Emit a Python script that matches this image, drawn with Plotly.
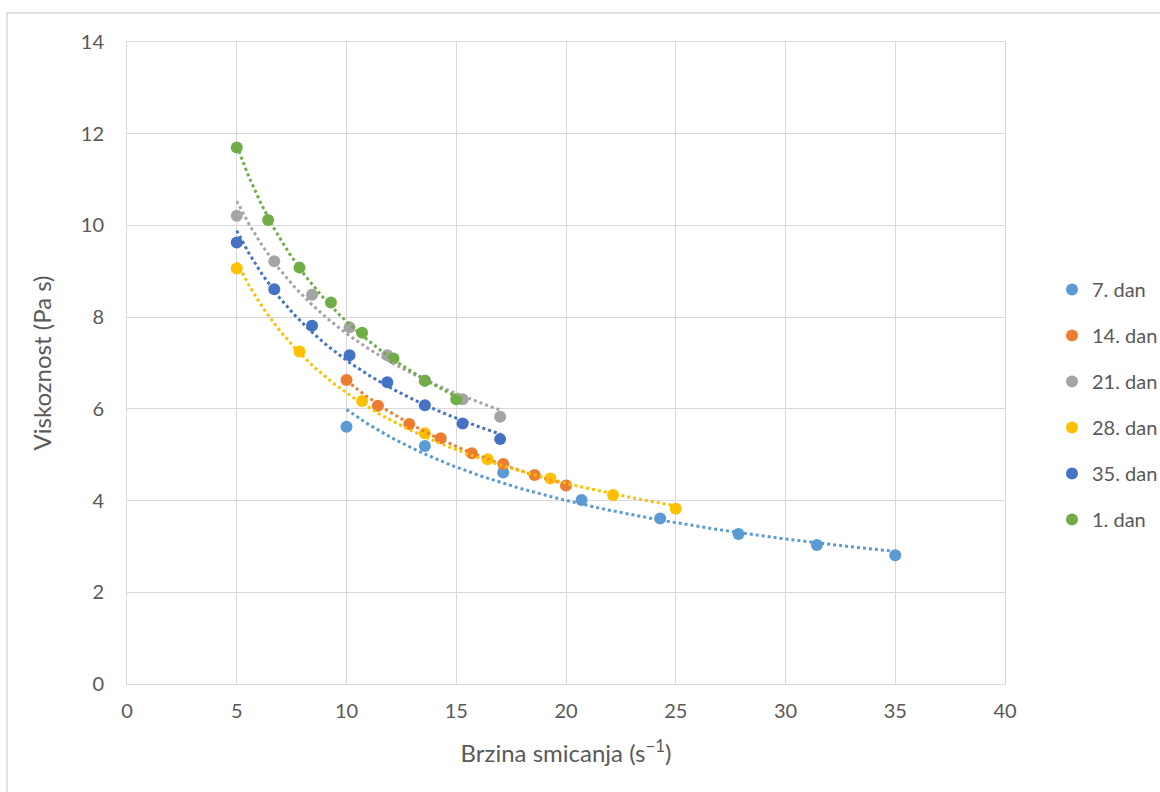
import numpy as np
import plotly.graph_objects as go

series_names = ["7. dan", "14. dan", "21. dan", "28. dan", "35. dan", "1. dan"]
colors = ["#5B9BD5", "#ED7D31", "#A5A5A5", "#FFC000", "#4472C4", "#70AD47"]

x_7 = [10, 13.57, 17.14, 20.71, 24.29, 27.86, 31.43, 35]
y_7 = [5.61, 5.19, 4.61, 4.01, 3.61, 3.27, 3.03, 2.81]

x_14 = [10, 11.43, 12.86, 14.29, 15.71, 17.14, 18.57, 20]
y_14 = [6.63, 6.07, 5.67, 5.36, 5.03, 4.80, 4.56, 4.33]

x_21 = [5, 6.71, 8.43, 10.14, 11.86, 13.57, 15.29, 17]
y_21 = [10.21, 9.22, 8.49, 7.78, 7.17, 6.62, 6.21, 5.83]

x_28 = [5, 7.86, 10.71, 13.57, 16.43, 19.29, 22.14, 25]
y_28 = [9.06, 7.25, 6.17, 5.47, 4.90, 4.48, 4.12, 3.82]

x_35 = [5, 6.71, 8.43, 10.14, 11.86, 13.57, 15.29, 17]
y_35 = [9.63, 8.61, 7.81, 7.17, 6.58, 6.08, 5.68, 5.34]

x_1 = [5, 6.43, 7.86, 9.29, 10.71, 12.14, 13.57, 15]
y_1 = [11.70, 10.12, 9.08, 8.32, 7.66, 7.10, 6.61, 6.21]

xs = [x_7, x_14, x_21, x_28, x_35, x_1]
ys = [y_7, y_14, y_21, y_28, y_35, y_1]

FONT = "Lato"
TXT = "#595959"
GRID = "#D9D9D9"

fig = go.Figure()

for i, (name, c, x, y) in enumerate(zip(series_names, colors, xs, ys)):
    fig.add_trace(go.Scatter(
        x=x, y=y, mode="markers", name=name,
        legendgroup=f"g{i}",
        marker=dict(color=c, size=12, line=dict(width=0)),
    ))

# power trendlines (least squares in log-log space), drawn above markers
for i, (name, c, x, y) in enumerate(zip(series_names, colors, xs, ys)):
    lx, ly = np.log(np.array(x)), np.log(np.array(y))
    b, lna = np.polyfit(lx, ly, 1)
    xt = np.linspace(min(x), max(x), 200)
    yt = np.exp(lna) * xt ** b
    fig.add_trace(go.Scatter(
        x=xt, y=yt, mode="lines", showlegend=False, hoverinfo="skip",
        line=dict(color=c, width=3, dash="dot"),
    ))

L, R, T, B = 127, 1005, 42, 684
W, H = 1160, 792
pw, ph = R - L, B - T

def px(xp):
    return (xp - L) / pw

def py(yp):
    return (B - yp) / ph

fig.add_shape(type="rect", xref="paper", yref="paper",
              x0=px(7), x1=px(1170), y0=py(13), y1=py(800),
              line=dict(color=GRID, width=1.5), fillcolor="rgba(0,0,0,0)", layer="below")

fig.update_layout(
    width=W, height=H,
    margin=dict(l=L, r=W - R, t=T, b=H - B, pad=0, autoexpand=False),
    paper_bgcolor="white", plot_bgcolor="white",
    font=dict(family=FONT, color=TXT, size=20),
    showlegend=True,
    legend=dict(
        x=px(1052), y=py(270), xanchor="left", yanchor="top",
        font=dict(family=FONT, size=20, color=TXT),
        tracegroupgap=17, itemsizing="constant",
        bgcolor="rgba(0,0,0,0)",
    ),
    xaxis=dict(
        range=[0, 40], dtick=5, tick0=0,
        showgrid=True, gridcolor=GRID, gridwidth=1,
        zeroline=False, showline=True, linecolor=GRID, mirror=True,
        ticks="", ticklabelstandoff=9,
        tickfont=dict(family=FONT, size=20, color=TXT),
        title=dict(text="Brzina smicanja (s<sup>−1</sup>)", font=dict(family=FONT, size=24, color=TXT), standoff=24),
    ),
    yaxis=dict(
        range=[0, 14], dtick=2, tick0=0,
        showgrid=True, gridcolor=GRID, gridwidth=1,
        zeroline=False, showline=True, linecolor=GRID, mirror=True,
        ticks="", ticklabelstandoff=18,
        tickfont=dict(family=FONT, size=20, color=TXT),
        title=dict(text="Viskoznost (Pa s)", font=dict(family=FONT, size=24, color=TXT), standoff=22),
    ),
)

fig.write_html("out.html")
